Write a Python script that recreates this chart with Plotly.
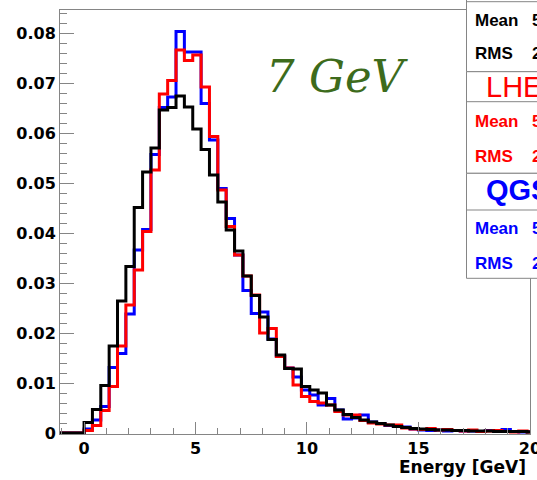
import numpy as np
import plotly.graph_objects as go

# Histogram binning (GeV): fixed-width bins, three empty bins below zero
BIN_WIDTH = 0.375
FIRST_EDGE = -1.125
X_MIN, X_MAX = -1.08, 20.005

# Normalised energy distributions (fraction of events per bin)
frac_black = [0, 0, 0,
              0.0021, 0.0047, 0.0095, 0.0174, 0.0264, 0.0333, 0.0451, 0.0522,
              0.0570, 0.0646, 0.0651, 0.0674, 0.0652, 0.0608, 0.0567, 0.0516,
              0.0462, 0.0406, 0.0364, 0.0314, 0.0275, 0.0232, 0.0187, 0.0156,
              0.0129, 0.0128, 0.0093, 0.0086, 0.0080, 0.0056, 0.0046, 0.0037,
              0.0031, 0.0026, 0.0022, 0.0019, 0.0016, 0.0013, 0.0011, 0.0009,
              0.0008, 0.0007, 0.0006, 0.0006, 0.0005, 0.0005, 0.0004, 0.0004,
              0.0004, 0.0003, 0.0003, 0.0003, 0.0003, 0.0002]
frac_lhep = [0, 0, 0,
             0.0005, 0.0015, 0.0045, 0.0093, 0.0174, 0.0256, 0.0326, 0.0403,
             0.0526, 0.0678, 0.0705, 0.0766, 0.0745, 0.0756, 0.0692, 0.0593,
             0.0486, 0.0413, 0.0356, 0.0314, 0.0276, 0.0200, 0.0209, 0.0153,
             0.0130, 0.0096, 0.0073, 0.0063, 0.0060, 0.0056, 0.0043, 0.0036,
             0.0036, 0.0025, 0.0020, 0.0018, 0.0016, 0.0016, 0.0010, 0.0008,
             0.0007, 0.0009, 0.0006, 0.0007, 0.0005, 0.0004, 0.0006, 0.0003,
             0.0004, 0.0005, 0.0003, 0.0002, 0.0004, 0.0002]
frac_qgsp = [0, 0, 0,
             0.0008, 0.0026, 0.0053, 0.0131, 0.0159, 0.0238, 0.0366, 0.0407,
             0.0557, 0.0651, 0.0672, 0.0803, 0.0762, 0.0762, 0.0659, 0.0586,
             0.0489, 0.0429, 0.0356, 0.0285, 0.0239, 0.0242, 0.0188, 0.0154,
             0.0130, 0.0112, 0.0086, 0.0076, 0.0056, 0.0069, 0.0046, 0.0028,
             0.0030, 0.0036, 0.0022, 0.0019, 0.0015, 0.0013, 0.0012, 0.0008,
             0.0006, 0.0005, 0.0006, 0.0004, 0.0005, 0.0004, 0.0004, 0.0003,
             0.0005, 0.0003, 0.0007, 0.0003, 0.0002, 0.0003]

series = [("QGSP", frac_qgsp, "#0000ff"),
          ("LHEP", frac_lhep, "#ff0000"),
          ("black", frac_black, "#000000")]

# Canvas geometry (pixels)
W, H = 537, 480
PL, PR, PT, PB = 60, 530, 10, 434
AX_GRAY = "#858585"


def px(xp):
    return (xp - PL) / (PR - PL)


def py(yp):
    return (PB - yp) / (PB - PT)


def edges_for(vals):
    e = FIRST_EDGE + BIN_WIDTH * np.arange(len(vals) + 1)
    return np.clip(e, X_MIN, X_MAX)


def stats(vals):
    v = np.asarray(vals, float)
    centres = FIRST_EDGE + BIN_WIDTH * (np.arange(len(v)) + 0.5)
    mean = np.sum(v * centres) / np.sum(v)
    rms = np.sqrt(np.sum(v * (centres - mean) ** 2) / np.sum(v))
    return mean, rms


fig = go.Figure()
for name, vals, col in series:
    x = edges_for(vals)
    y = list(vals) + [vals[-1]]
    fig.add_trace(go.Scatter(x=x, y=y, mode="lines", name=name,
                             line=dict(color=col, width=3, shape="hv"),
                             hoverinfo="skip", showlegend=False))

tickfont = dict(family="DejaVu Sans", size=16, color="black", weight="bold")
fig.update_xaxes(range=[X_MIN, X_MAX], showgrid=False, zeroline=False,
                 showline=True, linecolor=AX_GRAY, linewidth=1, mirror=True,
                 ticks="inside", ticklen=12, tickcolor=AX_GRAY, tickwidth=1,
                 tick0=0, dtick=5, tickfont=tickfont,
                 ticklabeloverflow="allow", automargin=False,
                 minor=dict(ticks="inside", ticklen=6, dtick=1, tick0=0,
                            tickcolor=AX_GRAY, showgrid=False))
fig.update_yaxes(range=[-0.0002, 0.0846], showgrid=False, zeroline=False,
                 showline=True, linecolor=AX_GRAY, linewidth=1, mirror=True,
                 ticks="inside", ticklen=14, tickcolor=AX_GRAY, tickwidth=1,
                 tick0=0, dtick=0.01, tickformat=".2~f", tickfont=tickfont,
                 automargin=False,
                 minor=dict(ticks="inside", ticklen=7, dtick=0.002, tick0=0,
                            tickcolor=AX_GRAY, showgrid=False))

shapes = []
annotations = []

# Statistics boxes on the right
BOX_L, BOX_R = 466.5, 600
boxes = [(-40, 71.7, 1.7), (71.7, 173.3, 101.7), (173.3, 278.3, 210.0)]
for top, bot, sep in boxes:
    shapes.append(dict(type="rect", xref="paper", yref="paper",
                       x0=px(BOX_L), x1=px(BOX_R), y0=py(bot), y1=py(top),
                       line=dict(color=AX_GRAY, width=1), fillcolor="white",
                       layer="above"))
    shapes.append(dict(type="line", xref="paper", yref="paper",
                       x0=px(BOX_L), x1=px(BOX_R), y0=py(sep), y1=py(sep),
                       line=dict(color=AX_GRAY, width=1), layer="above"))

stat_font = dict(family="Liberation Sans", size=17, weight="bold")
rows = [(frac_black, "#000000", None, 20.0, 53.3),
        (frac_lhep, "#ff0000", ("LHEP", 86.7, "normal"), 121.7, 156.7),
        (frac_qgsp, "#0000ff", ("QGSP", 190.0, "bold"), 228.3, 263.3)]
for vals, col, title, y_mean, y_rms in rows:
    m, r = stats(vals)
    if title:
        annotations.append(dict(text=title[0], xref="paper", yref="paper",
                                x=px(484), y=py(title[1]), xanchor="left",
                                yanchor="middle", showarrow=False,
                                font=dict(family="Liberation Sans", size=29,
                                          color=col, weight=title[2])))
    for lab, val, yy in (("Mean", m, y_mean), ("RMS", r, y_rms)):
        annotations.append(dict(text=lab, xref="paper", yref="paper",
                                x=px(472.5), y=py(yy), xanchor="left",
                                yanchor="middle", showarrow=False,
                                font=dict(stat_font, color=col)))
        annotations.append(dict(text=f"{val:.4g}", xref="paper", yref="paper",
                                x=px(577), y=py(yy), xanchor="right",
                                yanchor="middle", showarrow=False,
                                font=dict(stat_font, color=col)))

annotations.append(dict(text="7 GeV", xref="paper", yref="paper",
                        x=px(264), y=py(76), xanchor="left", yanchor="middle",
                        showarrow=False,
                        font=dict(family="DejaVu Serif", size=45,
                                  color="#3d6b1c", style="italic")))
annotations.append(dict(text="Energy [GeV]", xref="paper", yref="paper",
                        x=px(528), y=py(466.5), xanchor="right",
                        yanchor="middle", showarrow=False,
                        font=dict(family="DejaVu Sans", size=17,
                                  color="black", weight="bold")))

fig.update_layout(width=W, height=H,
                  margin=dict(l=PL, r=W - PR, t=PT, b=H - PB, pad=0),
                  paper_bgcolor="white", plot_bgcolor="white",
                  shapes=shapes, annotations=annotations)

fig.write_html("out.html")
